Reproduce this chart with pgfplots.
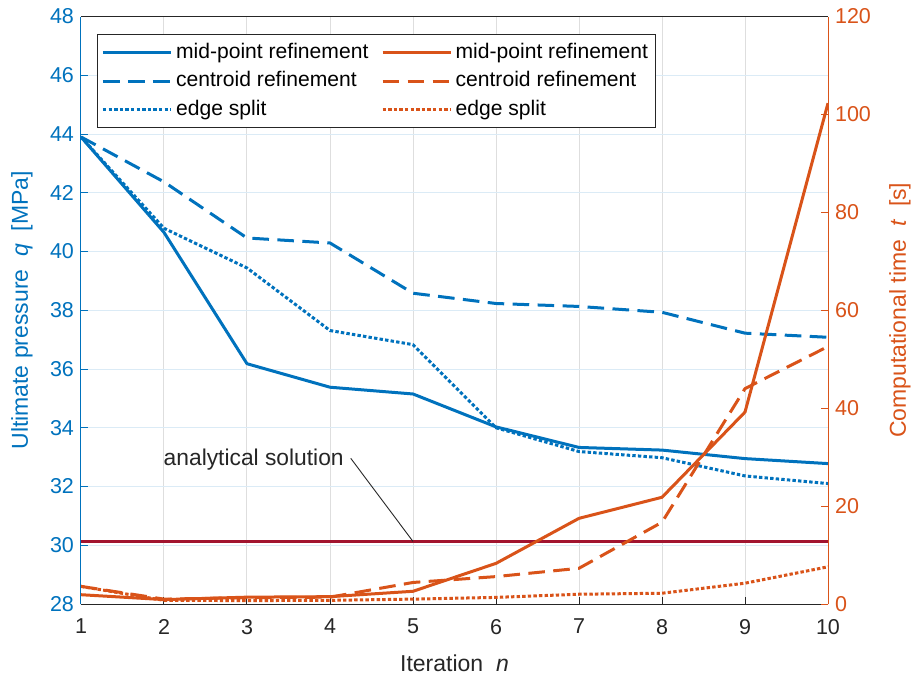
\documentclass[border=0pt]{standalone}
\usepackage{fontspec}
\setmainfont{Liberation Sans}
\usepackage{pgfplots}
\pgfplotsset{compat=1.18}
\definecolor{mblue}{HTML}{0072BD}
\definecolor{morange}{HTML}{D95319}
\definecolor{mred}{HTML}{A2142F}
\definecolor{mgrey}{HTML}{262626}
\begin{document}
\begin{tikzpicture}
\pgfplotsset{
  every axis/.append style={
    scale only axis, width=373.5pt, height=293.75pt,
    xmin=1, xmax=10,
    /pgf/number format/assume math mode=true,
    tick label style={font=\fontsize{10.75}{12}\selectfont},
    label style={font=\fontsize{11.5}{13}\selectfont},
    major tick length=3.5pt,
    tick align=inside,
  }
}
\begin{axis}[
  ymin=28, ymax=48, ytick={28,30,...,48},
  xtick={1,...,10},
  axis x line*=bottom, axis y line*=left,
  x axis line style={draw=mgrey, line width=0.5pt},
  y axis line style={draw=mblue, line width=0.5pt},
  xtick style={draw=mgrey, line width=0.5pt},
  ytick style={draw=mblue, line width=0.5pt},
  xticklabel style={text=mgrey, yshift=-4pt},
  yticklabel style={text=mblue},
  xmajorgrids, ymajorgrids,
  major x grid style={draw=mgrey!15, line width=0.5pt},
  major y grid style={draw=mblue!14, line width=0.5pt},
  xlabel={Iteration \ \textit{n}},
  xlabel style={at={(axis description cs:0.5,-0.1004)}, anchor=center, text=mgrey},
  ylabel={Ultimate pressure \ \textit{q} \ [MPa]},
  ylabel style={at={(axis description cs:-0.079,0.5)}, anchor=center, rotate=0, text=mblue},
]
\coordinate (SW) at (rel axis cs:0,0);
\coordinate (NE) at (rel axis cs:1,1);
\addplot[mblue, line width=1.5pt, line join=round] coordinates {
(1,43.9) (2,40.65) (3,36.18) (4,35.38) (5,35.15) (6,34.03) (7,33.33) (8,33.24) (9,32.95) (10,32.78)};
\addplot[mblue, line width=1.5pt, line join=round, dash pattern=on 8.3pt off 4.2pt] coordinates {
(1,43.9) (2,42.37) (3,40.46) (4,40.29) (5,38.58) (6,38.23) (7,38.13) (8,37.93) (9,37.22) (10,37.08)};
\addplot[mblue, line width=1.5pt, line join=round, dash pattern=on 1.7pt off 1.1pt] coordinates {
(1,43.9) (2,40.79) (3,39.44) (4,37.31) (5,36.83) (6,34.0) (7,33.19) (8,32.98) (9,32.36) (10,32.1)};
\addplot[mred, line width=1.7pt] coordinates {(1,30.13) (10,30.13)};
\node[anchor=east, inner sep=0pt, font=\fontsize{11.4}{13}\selectfont, text=mgrey] at (axis cs:4.17,32.9) {analytical solution};
\draw[mgrey, line width=0.45pt] (axis cs:4.25,32.96) -- (axis cs:5.0,30.13);
\end{axis}
\begin{axis}[
  ymin=0, ymax=120, ytick={0,20,...,120},
  xtick=\empty,
  axis x line*=top, axis y line*=right,
  x axis line style={draw=mgrey, line width=0.5pt},
  y axis line style={draw=morange, line width=0.5pt},
  ytick style={draw=morange, line width=0.5pt},
  yticklabel style={text=morange},
  ylabel={Computational time \ \textit{t} \ [s]},
  ylabel style={at={(axis description cs:1.0964,0.5)}, anchor=center, rotate=0, text=morange},
  legend columns=2,
  legend cell align=left,
  legend image code/.code={\draw[#1] (0pt,0pt) -- (34pt,0pt);},
  legend style={at={(0.0214,0.970)}, anchor=north west, draw=mgrey, line width=0.5pt, fill=white,
    font=\fontsize{10.55}{12}\selectfont, inner xsep=2pt, inner ysep=2.2pt,
    row sep=0.5pt,
    nodes={inner sep=1.8pt, text height=7.8pt, text depth=2.3pt},
    /tikz/every even column/.append style={column sep=4.5pt}},
]
\addlegendimage{mblue, line width=1.5pt}
\addlegendentry{mid-point refinement}
\addlegendimage{morange, line width=1.5pt}
\addlegendentry{mid-point refinement}
\addlegendimage{mblue, line width=1.5pt, dash pattern=on 8.3pt off 4.2pt}
\addlegendentry{centroid refinement}
\addlegendimage{morange, line width=1.5pt, dash pattern=on 8.3pt off 4.2pt}
\addlegendentry{centroid refinement}
\addlegendimage{mblue, line width=1.5pt, dash pattern=on 1.7pt off 1.1pt}
\addlegendentry{edge split}
\addlegendimage{morange, line width=1.5pt, dash pattern=on 1.7pt off 1.1pt}
\addlegendentry{edge split}
\addplot[forget plot, morange, line width=1.5pt, line join=round] coordinates {
(1,1.9) (2,0.9) (3,1.4) (4,1.5) (5,2.6) (6,8.3) (7,17.5) (8,21.8) (9,39.2) (10,102.3)};
\addplot[forget plot, morange, line width=1.5pt, line join=round, dash pattern=on 8.3pt off 4.2pt] coordinates {
(1,3.6) (2,1.0) (3,1.3) (4,1.4) (5,4.4) (6,5.6) (7,7.3) (8,16.7) (9,44.0) (10,52.6)};
\addplot[forget plot, morange, line width=1.5pt, line join=round, dash pattern=on 1.7pt off 1.1pt] coordinates {
(1,3.6) (2,0.75) (3,0.7) (4,0.75) (5,1.0) (6,1.35) (7,2.0) (8,2.2) (9,4.25) (10,7.6)};
\end{axis}
\pgfresetboundingbox
\path[use as bounding box] ([shift={(-40.5pt,-36.5pt)}]SW) rectangle ([shift={(45.5pt,8.25pt)}]NE);
\end{tikzpicture}
\end{document}
